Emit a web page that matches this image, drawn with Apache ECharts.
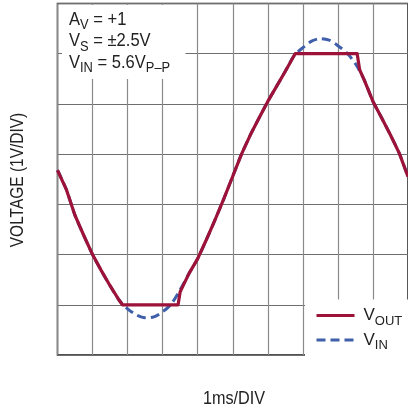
<!DOCTYPE html>
<html>
<head>
<meta charset="utf-8">
<script src="https://cdn.jsdelivr.net/npm/echarts@6/dist/echarts.min.js"></script>
<style>
html,body{margin:0;padding:0;background:#fff;}
#chart{width:408px;height:411px;}
</style>
</head>
<body>
<div id="chart"></div>
<script>
// time in divisions (1 ms/DIV), voltage in divisions (1 V/DIV, 0 = bottom of screen)
const vinTime = [0,0.25,0.5,0.75,1,1.25,1.5,1.75,2,2.25,2.5,2.75,3,3.25,3.5,3.75,4,4.25,4.5,4.75,5,5.25,5.5,5.75,6,6.25,6.5,6.75,7,7.25,7.5,7.75,8,8.25,8.5,8.75,9,9.25,9.5,9.75,10];
const vinValues = [3.68,3.30,2.78,2.38,2.00,1.68,1.38,1.10,0.92,0.80,0.74,0.76,0.86,1.02,1.30,1.62,1.92,2.30,2.70,3.12,3.56,4.00,4.38,4.72,5.05,5.35,5.65,5.96,6.12,6.25,6.30,6.27,6.16,6.02,5.80,5.48,5.05,4.72,4.38,4.02,3.55];
const voutTime = [0,0.25,0.5,0.75,1,1.25,1.5,1.75,1.85,2.5,3.0,3.44,3.5,3.75,4,4.25,4.5,4.75,5,5.25,5.5,5.75,6,6.25,6.5,6.78,7.5,8.0,8.55,8.62,8.75,9,9.25,9.5,9.75,10];
const voutValues = [3.68,3.30,2.78,2.38,2.00,1.68,1.38,1.10,1.00,1.00,1.00,1.00,1.26,1.62,1.92,2.30,2.70,3.12,3.56,4.00,4.38,4.72,5.05,5.35,5.65,6.00,6.00,6.00,6.00,5.68,5.48,5.05,4.72,4.38,4.02,3.55];
const xTicks = {min: 0, max: 10, interval: 1};
const yTicks = {min: 0, max: 7, interval: 1};
const seriesNames = ['VOUT', 'VIN'];
const legendLabels = {VOUT: ['V', 'OUT'], VIN: ['V', 'IN']};

const FONT = '"Liberation Sans", Arial, sans-serif';
const RED = '#9c1238';
const BLUE = '#3f5faa';
const TXT = '#222';

const richStyle = {
  m: {fontSize: 17, lineHeight: 22, fontFamily: FONT, color: TXT},
  s: {fontSize: 13, lineHeight: 11, padding: [11, 0, 0, 0], fontFamily: FONT, color: TXT}
};

const chart = echarts.init(document.getElementById('chart'), null, {renderer: 'canvas'});
chart.setOption({
  animation: false,
  backgroundColor: '#fff',
  grid: {left: 57.5, top: 3.5, width: 352, height: 351.5, show: true, borderColor: '#1a1a1a', borderWidth: 1.5, backgroundColor: 'transparent', containLabel: false},
  xAxis: {
    type: 'value', min: xTicks.min, max: xTicks.max, interval: xTicks.interval,
    axisLine: {show: false}, axisTick: {show: false}, axisLabel: {show: false},
    splitLine: {show: true, lineStyle: {color: '#8a8a8a', width: 1.2}}
  },
  yAxis: {
    type: 'value', min: yTicks.min, max: yTicks.max, interval: yTicks.interval,
    axisLine: {show: false}, axisTick: {show: false}, axisLabel: {show: false},
    splitLine: {show: true, lineStyle: {color: '#6e6e6e', width: 1.2}}
  },
  legend: {
    orient: 'vertical', left: 305, top: 299.5,
    padding: [4, 20, 4, 10],
    backgroundColor: '#fff',
    itemWidth: 38, itemHeight: 12, itemGap: 0.5,
    data: seriesNames,
    itemStyle: {opacity: 0},
    lineStyle: {width: 3},
    formatter: function (name) { const p = legendLabels[name]; return '{m|' + p[0] + '}{s|' + p[1] + '}'; },
    textStyle: {padding: [0, 0, 0, 4], rich: richStyle}
  },
  graphic: [
    {type: 'rect', z: 10, shape: {x: 62, y: 5, width: 123.5, height: 74}, style: {fill: '#fff'}},
    {type: 'text', z: 11, x: 69, y: 9, scaleX: 0.92,
      style: {text: '{m|A}{s|V}{m| = +1}\n{m|V}{s|S}{m| = ±2.5V}\n{m|V}{s|IN}{m| = 5.6V}{s|P–P}', rich: {
        m: {fontSize: 18, lineHeight: 21.5, fontFamily: FONT, fill: TXT},
        s: {fontSize: 14, lineHeight: 10.5, padding: [11, 0, 0, 0], fontFamily: FONT, fill: TXT}
      }}},
    {type: 'text', x: 18, y: 180, rotation: Math.PI / 2, scaleX: 0.86,
      style: {text: 'VOLTAGE (1V/DIV)', fontSize: 18, fontFamily: FONT, fill: TXT, align: 'center', verticalAlign: 'middle'}},
    {type: 'text', x: 234, y: 399, scaleX: 0.9,
      style: {text: '1ms/DIV', fontSize: 18, fontFamily: FONT, fill: TXT, align: 'center', verticalAlign: 'middle'}}
  ],
  series: [
    {name: 'VOUT', type: 'line', z: 4, showSymbol: false, symbol: 'none',
      data: voutTime.map((t, i) => [t, voutValues[i]]),
      lineStyle: {color: RED, width: 3.2, join: 'round'}, itemStyle: {color: RED}},
    {name: 'VIN', type: 'line', z: 3, showSymbol: false, symbol: 'none', smooth: 0.3,
      data: vinTime.map((t, i) => [t, vinValues[i]]),
      lineStyle: {color: BLUE, width: 3, type: [9, 5]}, itemStyle: {color: BLUE}}
  ]
});
</script>
</body>
</html>
